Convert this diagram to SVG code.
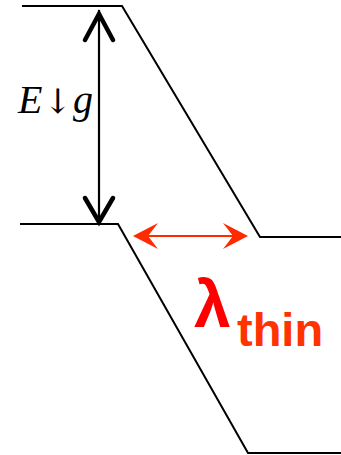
<svg xmlns="http://www.w3.org/2000/svg" width="341" height="455" viewBox="0 0 341 455">
<style>
.band{fill:none;stroke:#000;stroke-width:2}
.chev{fill:none;stroke:#000;stroke-width:4.5;stroke-linecap:round;stroke-linejoin:miter}
.red{fill:#ff2a00}
</style>
<rect width="341" height="455" fill="#fff"/>
<g id="upper-band"><polyline class="band" points="22,6 122,6 260,237 341,237"/></g>
<g id="lower-band"><polyline class="band" points="20,224 118,224 248,453 341,453"/></g>
<g id="connectors">
<g id="energy-gap-arrow">
<line x1="99" y1="10" x2="99" y2="221" stroke="#000" stroke-width="2.2"/>
<polyline class="chev" points="85,40 99,14 113,40"/>
<polyline class="chev" points="85,198 99,222 113,198"/>
</g>
<g id="width-arrow">
<line x1="145" y1="236" x2="236" y2="236" stroke="#ff2a00" stroke-width="2"/>
<polygon class="red" points="133,236 158,223 148,236 158,249"/>
<polygon class="red" points="248,236 223,223 233,236 223,249"/>
</g>
</g>
<g id="label-eg"><text x="18" y="113" font-family="Liberation Serif, serif" font-style="italic" font-size="40">E<tspan font-family="DejaVu Serif, serif" font-style="normal" font-size="34" dx="1">↓</tspan><tspan dx="1">g</tspan></text></g>
<g id="label-lambda"><text x="194" y="327" font-family="Liberation Sans, Arial, sans-serif" font-weight="bold" font-size="66" fill="#ff0000">λ</text><text x="237" y="346" font-family="Liberation Sans, Arial, sans-serif" font-weight="bold" font-size="47" fill="#ff3300">thin</text></g>
</svg>
